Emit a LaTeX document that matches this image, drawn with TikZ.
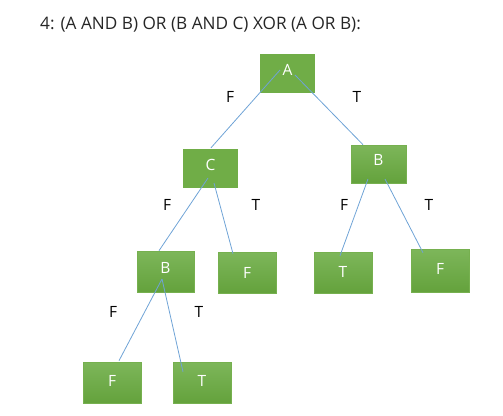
\documentclass[tikz,border=0pt]{standalone}
\usepackage{fontspec}
\setmainfont{Open Sans}
\usetikzlibrary{calc}
\definecolor{gflat}{HTML}{70AD47}
\definecolor{gtop}{HTML}{7DB65A}
\definecolor{gbot}{HTML}{64A23C}
\definecolor{gedge}{HTML}{76B04F}
\definecolor{edgeblue}{HTML}{6FA3D6}
\tikzset{
  flatbox/.style={fill=gflat, draw=none, inner sep=0pt},
  gradbox/.style={top color=gtop, bottom color=gbot, draw=gedge, line width=0.6pt, inner sep=0pt},
  edge/.style={draw=edgeblue, line width=0.8pt},
  lbl/.style={font=\fontsize{15.5}{15.5}\selectfont, text=black, inner sep=0pt},
  boxtext/.style={text=white, font=\fontsize{15.5}{15.5}\selectfont, inner sep=0pt}
}
\begin{document}
\begin{tikzpicture}[x=1pt,y=-1pt]
\useasboundingbox (0,0) rectangle (503,415);
\node[anchor=west, inner sep=0pt, font=\fontsize{17.2}{17.2}\selectfont, text=black!85] (title) at (40,25) {4: (A AND B) OR (B AND C) XOR (A OR B):};
% boxes
\node[flatbox, minimum width=55pt, minimum height=39pt] (A) at (287.5,73.5) {};
\node[flatbox, minimum width=55pt, minimum height=39pt] (C) at (210.5,168.5) {};
\node[gradbox, minimum width=55pt, minimum height=38pt] (B1) at (378.5,164) {};
\node[gradbox, minimum width=57pt, minimum height=41pt] (B2) at (165.5,271.5) {};
\node[gradbox, minimum width=58pt, minimum height=41pt] (F1) at (247,272.5) {};
\node[gradbox, minimum width=58pt, minimum height=41pt] (T1) at (343,272.5) {};
\node[gradbox, minimum width=58pt, minimum height=43pt] (F2) at (440,270.5) {};
\node[gradbox, minimum width=58pt, minimum height=41pt] (F3) at (112,382.5) {};
\node[gradbox, minimum width=58pt, minimum height=41pt] (T2) at (202,382.5) {};
% box texts
\node[boxtext] (tA) at ($(A.center)+(0,-4)$) {A};
\node[boxtext] (tC) at ($(C.center)+(0,-4)$) {C};
\node[boxtext] (tB1) at ($(B1.center)+(0,-4)$) {B};
\node[boxtext] (tB2) at ($(B2.center)+(0,-4)$) {B};
\node[boxtext] (tF1) at ($(F1.center)+(0,0)$) {F};
\node[boxtext] (tT1) at ($(T1.center)+(0,-1)$) {T};
\node[boxtext] (tF2) at ($(F2.center)+(0,-2)$) {F};
\node[boxtext] (tF3) at ($(F3.center)+(0,-2)$) {F};
\node[boxtext] (tT2) at ($(T2.center)+(0,-2)$) {T};
% connectors
\draw[edge] ($(A.center)+(-7.5,-3.5)$) -- ($(C.north)+(0.5,-1)$);
\draw[edge] ($(A.center)+(7.5,1.5)$) -- ($(B1.north)+(-15.5,0)$);
\draw[edge] ($(C.center)+(-2.5,9.5)$) -- ($(B2.north)+(-6.5,0)$);
\draw[edge] ($(C.center)+(3.5,14.5)$) -- ($(F1.north)+(-14,2)$);
\draw[edge] ($(B1.center)+(-10.5,15)$) -- ($(T1.north)+(-3,4)$);
\draw[edge] ($(B1.center)+(6.5,15)$) -- ($(F2.north)+(-17,4)$);
\draw[edge] ($(B2.center)+(-3.5,7.5)$) -- ($(F3.north)+(7,-1)$);
\draw[edge] ($(B2.center)+(-3.5,7.5)$) -- ($(T2.north)+(-19,10)$);
% labels
\node[lbl] (l1) at (230,97) {F};
\node[lbl] (l2) at (357,97) {T};
\node[lbl] (l3) at (167,205) {F};
\node[lbl] (l4) at (256,205) {T};
\node[lbl] (l5) at (344,205) {F};
\node[lbl] (l6) at (429,205) {T};
\node[lbl] (l7) at (113,312) {F};
\node[lbl] (l8) at (199,312) {T};
\end{tikzpicture}
\end{document}
